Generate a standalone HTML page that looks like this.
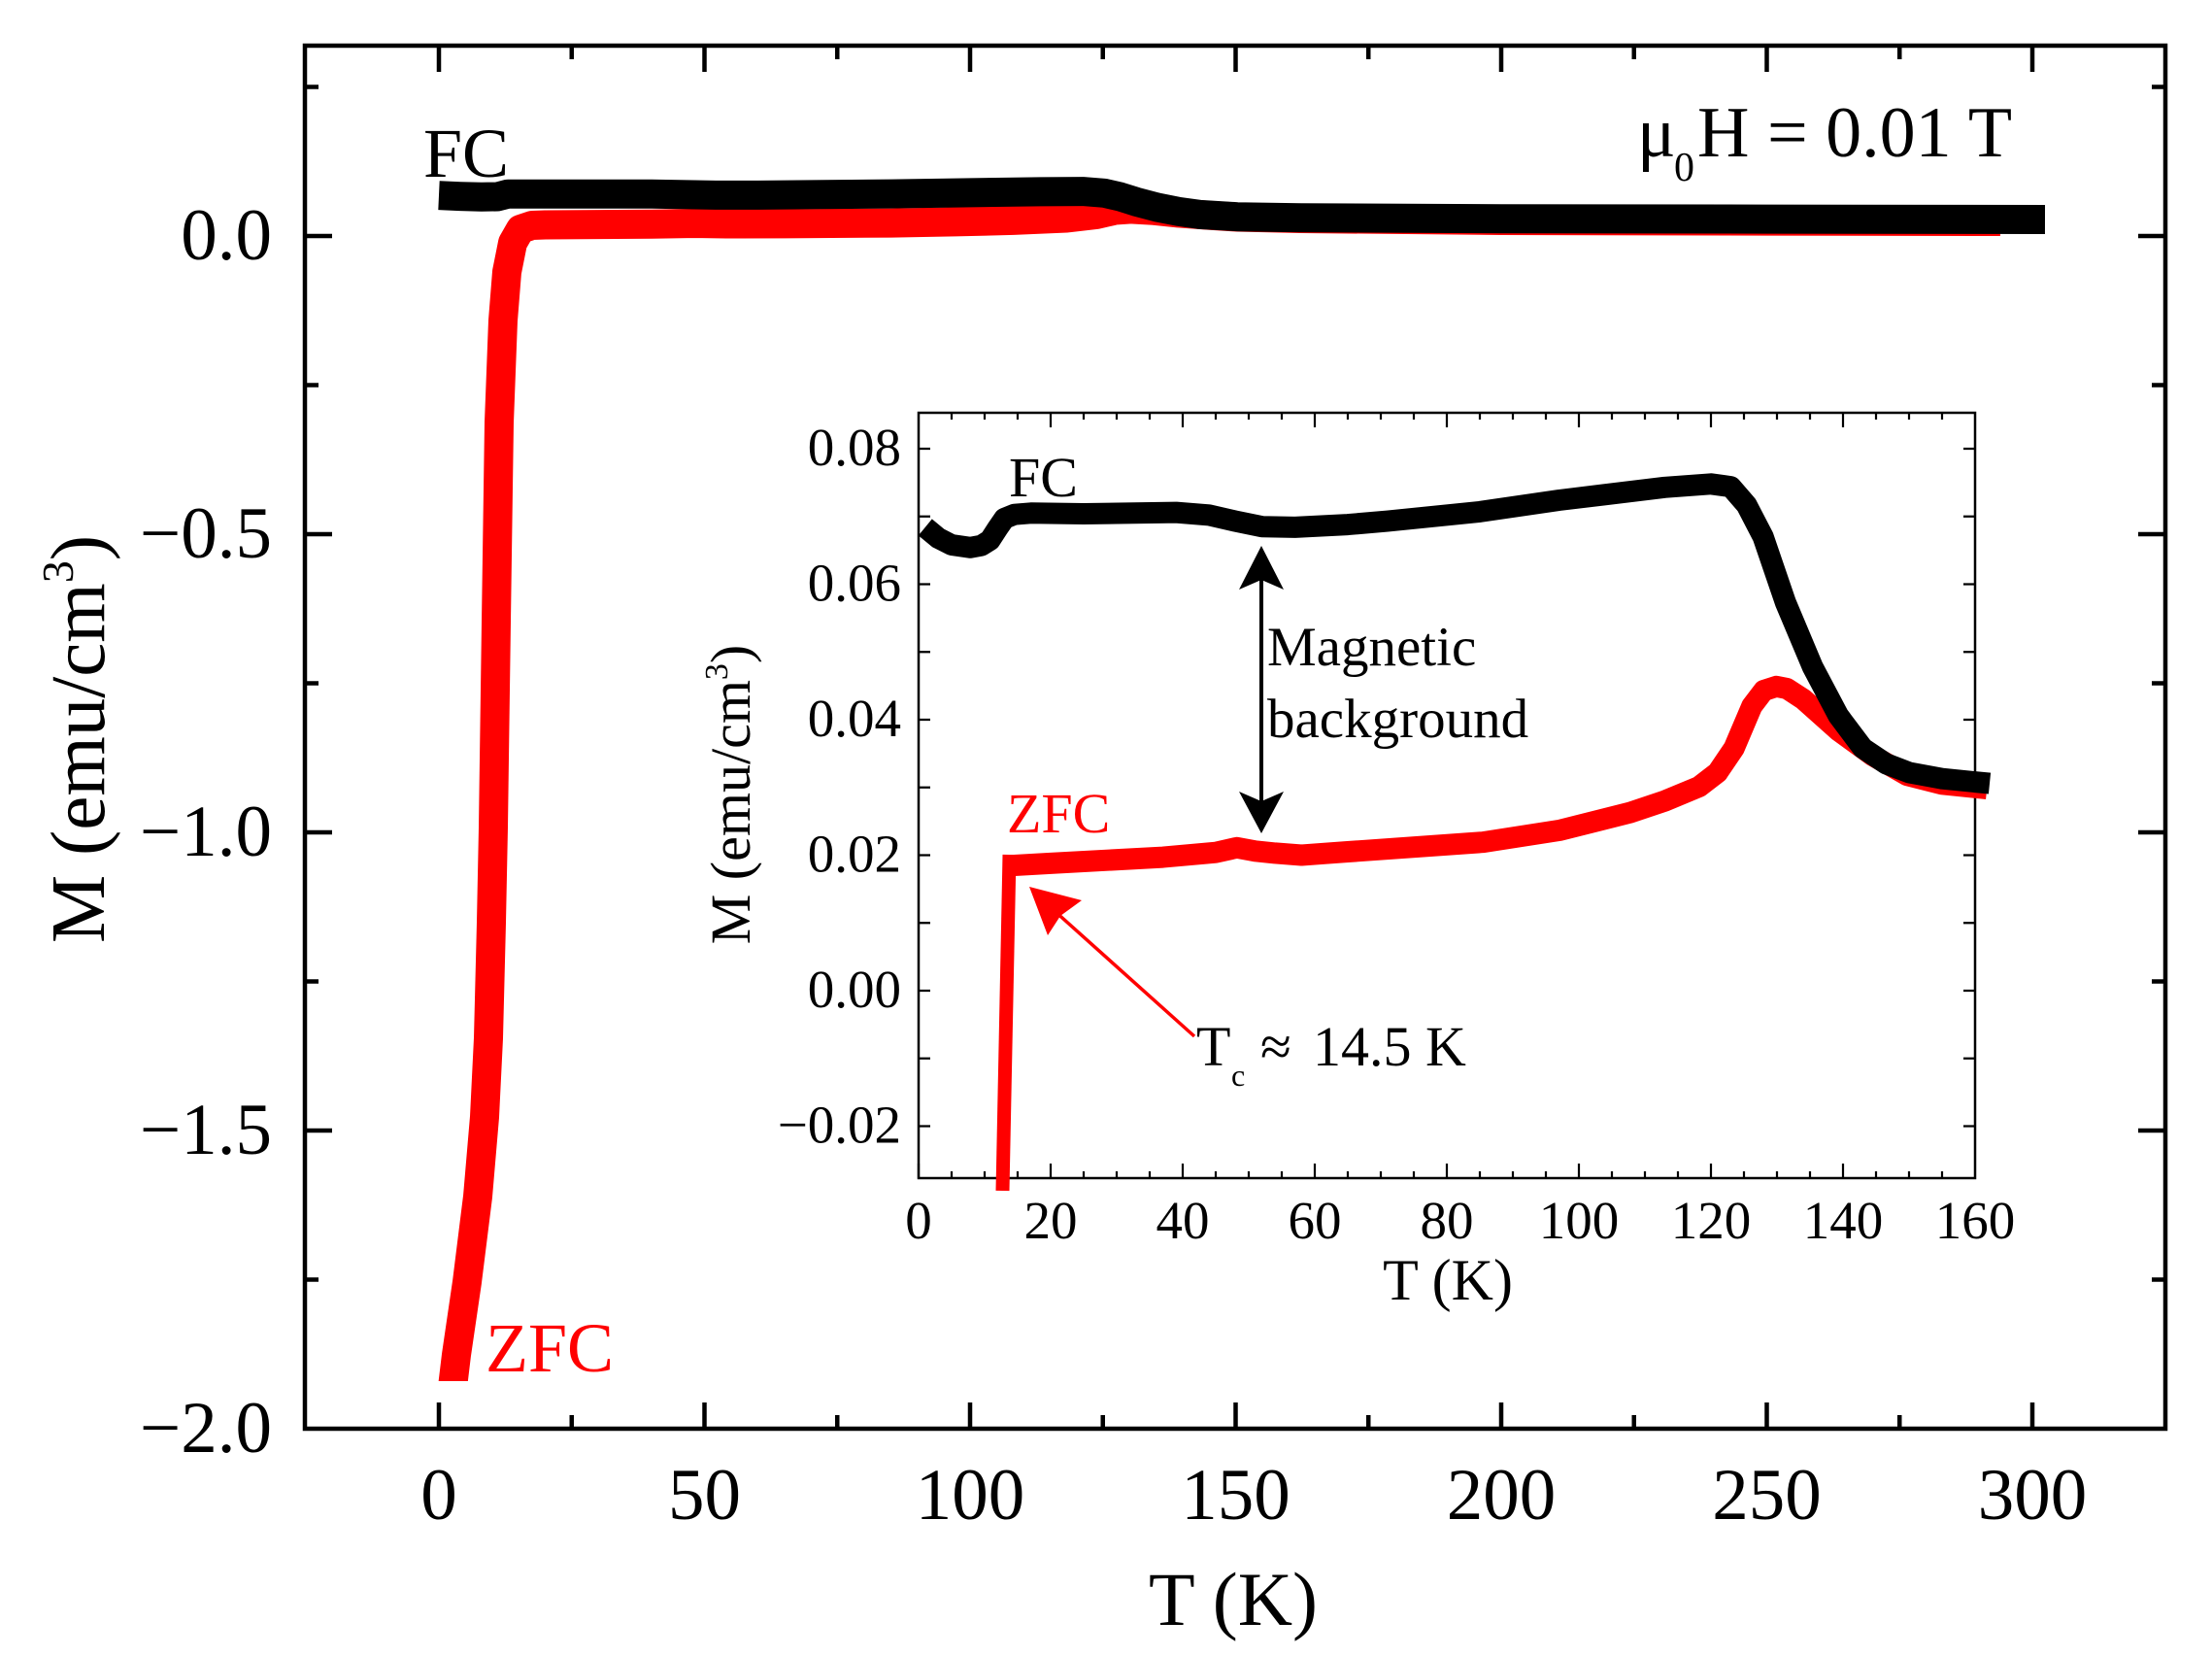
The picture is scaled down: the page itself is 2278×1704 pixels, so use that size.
<!DOCTYPE html>
<html><head><meta charset="utf-8"><style>html,body{margin:0;padding:0;background:#fff}svg{display:block}</style></head>
<body>
<svg width="2278" height="1704" viewBox="0 0 2278 1704" xmlns="http://www.w3.org/2000/svg" font-family="'Liberation Serif', 'Times New Roman', serif">
<rect x="0" y="0" width="2278" height="1704" fill="#fff"/>
<defs>
<clipPath id="mainclip"><rect x="0" y="0" width="2278" height="1422"/></clipPath>
</defs>

<!-- MAIN FRAME -->
<rect x="314" y="47" width="1916" height="1424" fill="none" stroke="#000" stroke-width="4.5"/>
<path fill="none" stroke="#000" stroke-width="4.5" d="
M452 1471V1444 M725.5 1471V1444 M999 1471V1444 M1272.5 1471V1444 M1546 1471V1444 M1819.5 1471V1444 M2093 1471V1444
M452 47V74 M725.5 47V74 M999 47V74 M1272.5 47V74 M1546 47V74 M1819.5 47V74 M2093 47V74
M588.75 1471V1457 M862.25 1471V1457 M1135.75 1471V1457 M1409.25 1471V1457 M1682.75 1471V1457 M1956.25 1471V1457
M588.75 47V61 M862.25 47V61 M1135.75 47V61 M1409.25 47V61 M1682.75 47V61 M1956.25 47V61
M314 243H342 M314 550H342 M314 857H342 M314 1164H342
M2230 243H2202 M2230 550H2202 M2230 857H2202 M2230 1164H2202
M314 89.5H328 M314 396.5H328 M314 703.5H328 M314 1010.5H328 M314 1317.5H328
M2230 89.5H2216 M2230 396.5H2216 M2230 703.5H2216 M2230 1010.5H2216 M2230 1317.5H2216"/>

<!-- main tick labels -->
<g font-size="75" fill="#000" text-anchor="end">
<text x="280" y="267">0.0</text>
<text x="280" y="574">−0.5</text>
<text x="280" y="881">−1.0</text>
<text x="280" y="1188">−1.5</text>
<text x="280" y="1495">−2.0</text>
</g>
<g font-size="75" fill="#000" text-anchor="middle">
<text x="452" y="1564">0</text>
<text x="725.5" y="1564">50</text>
<text x="999" y="1564">100</text>
<text x="1272.5" y="1564">150</text>
<text x="1546" y="1564">200</text>
<text x="1819.5" y="1564">250</text>
<text x="2093" y="1564">300</text>
</g>
<text x="1270" y="1673" font-size="78" text-anchor="middle" fill="#000">T (K)</text>
<text transform="translate(107,761) rotate(-90)" font-size="79" text-anchor="middle" fill="#000">M (emu/cm<tspan font-size="46" dy="-32">3</tspan><tspan dy="32">)</tspan></text>

<!-- main curves -->
<g clip-path="url(#mainclip)">
<polyline fill="none" stroke="#ff0000" stroke-width="30" stroke-linejoin="round" points="
464,1445 470,1395 481,1320 492,1232 499,1150 503,1069 506,950 508,852 511,640 514,435 518,330 522,280 528,250 536,236 548,232
561.6,231.5 671.2,230.8 715,230 748,230.5 808.2,230.4 917.8,229.6 983.6,228.4 1043.8,226.9 1098.6,224.5 1128.8,221 1148,216.6 1164.4,215.4 1186.3,216.6 1213.7,219.4 1246.6,221.8 1274,223.5 1339.8,225 1546,227 1819.5,227.6 2060,228"/>
</g>
<polyline fill="none" stroke="#000" stroke-width="30" stroke-linejoin="round" points="
452,201.2 473.9,202.2 495.8,202.8 512.3,202.5 523.2,199.7 561.6,199.7 671.2,199.7 737,200.9 780.8,200.9 917.8,199.6 1000,198.4 1071.2,197.4 1115.1,197.1 1137,198.8 1153.4,202.5 1169.9,207.7 1191.8,213.5 1213.7,217.8 1235.6,220.9 1274,223.2 1339.8,224.3 1546,225.2 1819.5,225.6 2106,226"/>

<text x="436" y="182" font-size="72" fill="#000">FC</text>
<text x="500" y="1412" font-size="72" fill="#ff0000">ZFC</text>
<text x="1686" y="161" font-size="74" fill="#000">μ</text>
<text x="1724" y="186" font-size="42" fill="#000">0</text>
<text x="1748" y="161" font-size="74" fill="#000">H = 0.01 T</text>

<!-- INSET -->
<rect x="946" y="425" width="1088" height="788" fill="#fff" stroke="none"/>
<path fill="none" stroke="#000" stroke-width="2.2" d="
M946 1213V1198 M1082 1213V1198 M1218 1213V1198 M1354 1213V1198 M1490 1213V1198 M1626 1213V1198 M1762 1213V1198 M1898 1213V1198
M1082 425V440 M1218 425V440 M1354 425V440 M1490 425V440 M1626 425V440 M1762 425V440 M1898 425V440
M980 1213V1206 M1014 1213V1206 M1048 1213V1206 M1116 1213V1206 M1150 1213V1206 M1184 1213V1206 M1252 1213V1206 M1286 1213V1206 M1320 1213V1206 M1388 1213V1206 M1422 1213V1206 M1456 1213V1206 M1524 1213V1206 M1558 1213V1206 M1592 1213V1206 M1660 1213V1206 M1694 1213V1206 M1728 1213V1206 M1796 1213V1206 M1830 1213V1206 M1864 1213V1206 M1932 1213V1206 M1966 1213V1206 M2000 1213V1206
M980 425V432 M1014 425V432 M1048 425V432 M1116 425V432 M1150 425V432 M1184 425V432 M1252 425V432 M1286 425V432 M1320 425V432 M1388 425V432 M1422 425V432 M1456 425V432 M1524 425V432 M1558 425V432 M1592 425V432 M1660 425V432 M1694 425V432 M1728 425V432 M1796 425V432 M1830 425V432 M1864 425V432 M1932 425V432 M1966 425V432 M2000 425V432
M946 462H958 M946 531.75H958 M946 601.5H958 M946 671.25H958 M946 741H958 M946 810.75H958 M946 880.5H958 M946 950.25H958 M946 1020H958 M946 1089.75H958 M946 1159.5H958
M2034 462H2022 M2034 531.75H2022 M2034 601.5H2022 M2034 671.25H2022 M2034 741H2022 M2034 810.75H2022 M2034 880.5H2022 M2034 950.25H2022 M2034 1020H2022 M2034 1089.75H2022 M2034 1159.5H2022"/>
<rect x="946" y="425" width="1088" height="788" fill="none" stroke="#000" stroke-width="2.5"/>

<g font-size="55" fill="#000" text-anchor="end">
<text x="928" y="479">0.08</text>
<text x="928" y="618.5">0.06</text>
<text x="928" y="758">0.04</text>
<text x="928" y="897.5">0.02</text>
<text x="928" y="1037">0.00</text>
<text x="928" y="1176.5">−0.02</text>
</g>
<g font-size="55" fill="#000" text-anchor="middle">
<text x="946" y="1275">0</text>
<text x="1082" y="1275">20</text>
<text x="1218" y="1275">40</text>
<text x="1354" y="1275">60</text>
<text x="1490" y="1275">80</text>
<text x="1626" y="1275">100</text>
<text x="1762" y="1275">120</text>
<text x="1898" y="1275">140</text>
<text x="2034" y="1275">160</text>
</g>
<text x="1491" y="1338" font-size="60" text-anchor="middle" fill="#000">T (K)</text>
<text transform="translate(772,818) rotate(-90)" font-size="58" text-anchor="middle" fill="#000">M (emu/cm<tspan font-size="34" dy="-23">3</tspan><tspan dy="23">)</tspan></text>

<!-- inset curves -->
<line x1="1032.5" y1="1226" x2="1039.5" y2="880" stroke="#ff0000" stroke-width="14"/>
<polyline fill="none" stroke="#ff0000" stroke-width="22" stroke-linejoin="round" points="
1040,891 1044.6,891 1082,888.9 1197.6,882.6 1252,877.7 1273.8,872.8 1292.8,876.3 1313.2,878.4 1340.4,880.5 1388,877 1526.7,867.2 1607,854.7 1679,836.6 1714.4,824.7 1749.8,810 1768.8,795.4 1785.8,770.3 1804.2,727 1816.4,711 1829.3,706.8 1840.2,708.9 1857.2,720 1893.2,752.2 1928.6,778 1964,798.2 2000,807.3 2046.2,812.1"/>
<polyline fill="none" stroke="#000" stroke-width="22" stroke-linejoin="round" points="
952.8,542.9 966.4,554.1 980,561 999,563.8 1010.6,561.7 1019.4,556.2 1027.6,543.6 1034.4,533.8 1044.6,529.7 1061.6,528.3 1116,529 1211.2,527.6 1245.2,530.4 1272.4,536.6 1299.6,542.2 1333.6,542.9 1388,540.1 1428.8,536.6 1524,526.9 1605.6,515 1714.4,501.8 1762,498.3 1782.4,501.1 1798.7,519.9 1815.7,552.7 1838.8,620.3 1866.7,686.6 1893.2,736.8 1918.4,770.3 1942.2,786.3 1966,795.4 2000,801.7 2049,806.6"/>

<!-- double arrow -->
<line x1="1299" y1="590" x2="1299" y2="830" stroke="#000" stroke-width="4"/>
<polygon points="1299,562 1322,607 1299,597 1276,607" fill="#000"/>
<polygon points="1299,858 1322,815 1299,825 1276,815" fill="#000"/>

<!-- red Tc arrow -->
<line x1="1230" y1="1067" x2="1085" y2="937" stroke="#ff0000" stroke-width="3.5"/>
<polygon points="1060,913 1114,927 1092,943 1079,963" fill="#ff0000"/>

<text x="1039" y="511" font-size="58" fill="#000">FC</text>
<text x="1037" y="857" font-size="58" fill="#ff0000">ZFC</text>
<text x="1305" y="685" font-size="57" fill="#000">Magnetic</text>
<text x="1305" y="759" font-size="57" fill="#000">background</text>
<text x="1232" y="1097" font-size="58" fill="#000">T</text>
<text x="1268" y="1118" font-size="32" fill="#000">c</text>
<text x="1298" y="1097" font-size="58" fill="#000">≈</text>
<text x="1352" y="1097" font-size="58" fill="#000">14.5 K</text>
</svg>
</body></html>
